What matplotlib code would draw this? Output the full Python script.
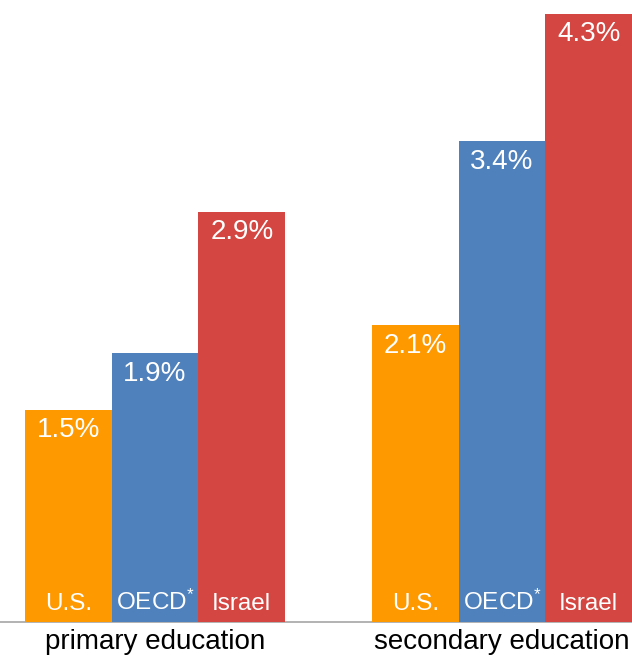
import matplotlib
matplotlib.use("Agg")
import matplotlib.pyplot as plt

plt.rcParams['font.family'] = ['Liberation Sans', 'DejaVu Sans']
plt.rcParams['mathtext.fontset'] = 'custom'
plt.rcParams['mathtext.rm'] = 'Liberation Sans'
plt.rcParams['mathtext.it'] = 'Liberation Sans'

groups = ["primary education", "secondary education"]
countries = ["U.S.", "OECD$^{*}$", "Israel"]
colors = ["#FF9900", "#4F81BD", "#D34641"]
values = {
    "primary education": [1.5, 1.9, 2.9],
    "secondary education": [2.1, 3.4, 4.3],
}

fig = plt.figure(figsize=(6.32, 6.55), dpi=100)
ax = fig.add_axes([0, 33 / 655, 1, 622 / 655])

for g, group in enumerate(groups):
    for i, country in enumerate(countries):
        x = g * 4 + i
        v = values[group][i]
        ax.bar(x, v, width=1.0, color=colors[i], linewidth=0, zorder=2)
        ax.annotate(f"{v:.1f}%", (x, v), xytext=(0, -5.5), textcoords="offset points",
                    ha="center", va="top", color="white", fontsize=20, zorder=3)
        ax.annotate(country, (x, 0), xytext=(0, 9), textcoords="offset points",
                    ha="center", va="baseline", color="white", fontsize=17.5, zorder=3)
    ax.annotate(group, (g * 4 + 1, 0), xytext=(0, -19.4), textcoords="offset points",
                ha="center", va="baseline", color="black", fontsize=20,
                annotation_clip=False)

# grey baseline runs under the bars
ax.axhline(0, color="#A6A6A6", linewidth=1.2, clip_on=False, zorder=1)
ax.set_xlim(-0.788, 6.5)
ax.set_ylim(0, 4.396)
ax.axis("off")

fig.savefig("out.png", dpi=100)
